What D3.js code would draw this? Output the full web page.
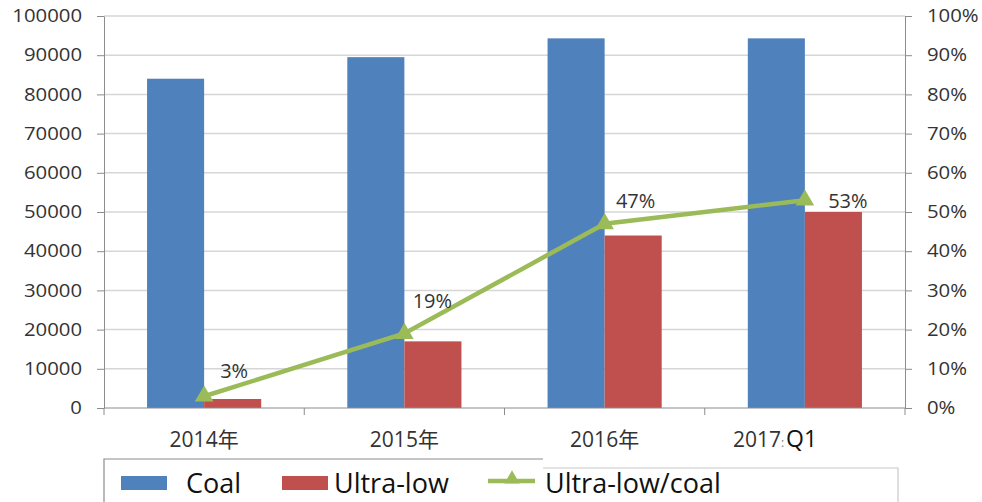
<!DOCTYPE html>
<html>
<head>
<meta charset="utf-8">
<script src="https://cdn.jsdelivr.net/npm/d3@7"></script>
<style>
  body { margin: 0; background: #fff; }
  svg { display: block; }
  text { font-family: "Open Sans", "Noto Sans CJK SC", sans-serif; fill: #333; }
</style>
</head>
<body>
<svg id="chart" width="982" height="502"></svg>
<script>
// ---- data ----
const categories = ["2014年", "2015年", "2016年", "2017:Q1"];
const coal = [84000, 89500, 94300, 94300];
const ultraLow = [2300, 17000, 44000, 50000];
const ratio = [0.03, 0.19, 0.47, 0.53];
const leftTicks = [0, 10000, 20000, 30000, 40000, 50000, 60000, 70000, 80000, 90000, 100000];
const rightTicks = [0, 0.1, 0.2, 0.3, 0.4, 0.5, 0.6, 0.7, 0.8, 0.9, 1.0];
const seriesNames = ["Coal", "Ultra-low", "Ultra-low/coal"];

// ---- style ----
const colors = { coal: "#4F81BD", ultra: "#C0504D", ratio: "#9BBB59" };
const plot = { left: 104, right: 905, top: 16, bottom: 408 };
const barShare = 0.285;               // each bar as a share of the category band
const tickStretch = 1.13;             // axis numbers are drawn slightly wide
// per-point nudges for the percentage labels [dx, dy from the marker]
const labelNudge = [[30, -18], [28, -26], [31, -16], [43, 8]];

const svg = d3.select("#chart");

const x = d3.scaleBand().domain(categories).range([plot.left, plot.right]).padding(0);
const y = d3.scaleLinear().domain([0, 100000]).range([plot.bottom, plot.top]);
const y2 = d3.scaleLinear().domain([0, 1]).range([plot.bottom, plot.top]);

const bw = x.bandwidth() * barShare;
const groupOffset = (x.bandwidth() - 2 * bw) / 2;

// gridlines
svg.append("g")
  .selectAll("line")
  .data(leftTicks.filter(d => d > 0))
  .join("line")
  .attr("x1", plot.left).attr("x2", plot.right)
  .attr("y1", d => y(d)).attr("y2", d => y(d))
  .attr("stroke", "#d6d6d6").attr("stroke-width", 1.5);

// bars
svg.append("g")
  .selectAll("rect")
  .data(categories.map((c, i) => ({ c, v: coal[i] })))
  .join("rect")
  .attr("x", d => x(d.c) + groupOffset)
  .attr("y", d => y(d.v))
  .attr("width", bw)
  .attr("height", d => y(0) - y(d.v))
  .attr("fill", colors.coal);

svg.append("g")
  .selectAll("rect")
  .data(categories.map((c, i) => ({ c, v: ultraLow[i] })))
  .join("rect")
  .attr("x", d => x(d.c) + groupOffset + bw)
  .attr("y", d => y(d.v))
  .attr("width", bw)
  .attr("height", d => y(0) - y(d.v))
  .attr("fill", colors.ultra);

// left axis
const leftAxis = svg.append("g")
  .attr("transform", `translate(${plot.left},0)`)
  .call(d3.axisLeft(y).tickValues(leftTicks).tickFormat(d3.format("d"))
    .tickSize(7).tickSizeOuter(0).tickPadding(15));
leftAxis.selectAll("text")
  .style("font-size", "18px")
  .attr("transform", `scale(${tickStretch},1)`)
  .attr("x", function () { return +d3.select(this).attr("x") / tickStretch; });

// right axis
const rightAxis = svg.append("g")
  .attr("transform", `translate(${plot.right},0)`)
  .call(d3.axisRight(y2).tickValues(rightTicks).tickFormat(d3.format(".0%"))
    .tickSize(7).tickSizeOuter(0).tickPadding(15));
rightAxis.selectAll("text")
  .style("font-size", "18px")
  .attr("transform", `scale(${tickStretch},1)`)
  .attr("x", function () { return +d3.select(this).attr("x") / tickStretch; });

[leftAxis, rightAxis].forEach(a => {
  a.select(".domain").attr("stroke", "#8c8c8c");
  a.selectAll(".tick line").attr("stroke", "#8c8c8c");
});

// bottom axis: labels centred in each band, ticks on the band edges
const bottom = svg.append("g").attr("transform", `translate(0,${plot.bottom})`);
bottom.append("line")
  .attr("x1", plot.left).attr("x2", plot.right)
  .attr("stroke", "#8c8c8c");
bottom.selectAll("line.edge")
  .data(d3.range(categories.length + 1))
  .join("line").attr("class", "edge")
  .attr("x1", i => plot.left + i * x.step()).attr("x2", i => plot.left + i * x.step())
  .attr("y1", 0).attr("y2", 7)
  .attr("stroke", "#8c8c8c");

const catLabels = bottom.selectAll("text.cat")
  .data(categories)
  .join("text").attr("class", "cat")
  .attr("x", d => x(d) + x.bandwidth() / 2)
  .attr("y", 39)
  .style("font-size", "21px");

catLabels.each(function (d) {
  const t = d3.select(this);
  if (d.includes(":")) {
    const [a, b] = d.split(":");
    t.attr("text-anchor", "start").attr("dx", -72);
    t.append("tspan").text(a);
    t.append("tspan").text(":").style("font-size", "12px").style("fill", "#777");
    t.append("tspan").text(b).style("font-size", "23px").style("fill", "#111")
      .attr("dx", 2);
  } else {
    t.attr("text-anchor", "middle").text(d);
  }
});

// ratio line
const pts = categories.map((c, i) => ({ x: x(c) + x.bandwidth() / 2, y: y2(ratio[i]), r: ratio[i], i }));
svg.append("path")
  .datum(pts)
  .attr("d", d3.line().x(d => d.x).y(d => d.y))
  .attr("fill", "none")
  .attr("stroke", colors.ratio)
  .attr("stroke-width", 4.5);

svg.append("g")
  .selectAll("path")
  .data(pts)
  .join("path")
  .attr("transform", d => `translate(${d.x},${d.y})`)
  .attr("d", d3.symbol(d3.symbolTriangle, 150))
  .attr("fill", colors.ratio);

svg.append("g")
  .selectAll("text")
  .data(pts)
  .join("text")
  .attr("x", d => d.x + labelNudge[d.i][0])
  .attr("y", d => d.y + labelNudge[d.i][1])
  .attr("text-anchor", "middle")
  .style("font-size", "20px")
  .text(d => d3.format(".0%")(d.r));

// legend
const lg = svg.append("g");
lg.append("path")
  .attr("d", `M${plot.left},502 V459 H543`)
  .attr("fill", "none").attr("stroke", "#8c8c8c").attr("stroke-width", 1.2);
lg.append("rect")
  .attr("x", 543).attr("y", 468).attr("width", 355).attr("height", 40)
  .attr("fill", "#fff");
lg.append("path")
  .attr("d", `M543,468 H898 V502`)
  .attr("fill", "none").attr("stroke", "#c8c8c8").attr("stroke-width", 1.2);

lg.append("rect").attr("x", 121).attr("y", 476).attr("width", 46).attr("height", 14).attr("fill", colors.coal);
lg.append("text").attr("x", 186).attr("y", 493).style("font-size", "27px").style("fill", "#111").text(seriesNames[0]);

lg.append("rect").attr("x", 282).attr("y", 476).attr("width", 46).attr("height", 14).attr("fill", colors.ultra);
lg.append("text").attr("x", 334).attr("y", 493).style("font-size", "27px").style("fill", "#111").text(seriesNames[1]);

lg.append("line").attr("x1", 488).attr("x2", 535).attr("y1", 481).attr("y2", 481)
  .attr("stroke", colors.ratio).attr("stroke-width", 4.5);
lg.append("path").attr("transform", "translate(512,479)")
  .attr("d", d3.symbol(d3.symbolTriangle, 100)).attr("fill", colors.ratio);
lg.append("text").attr("x", 545).attr("y", 493).style("font-size", "27px").style("fill", "#111").text(seriesNames[2]);
</script>
</body>
</html>
